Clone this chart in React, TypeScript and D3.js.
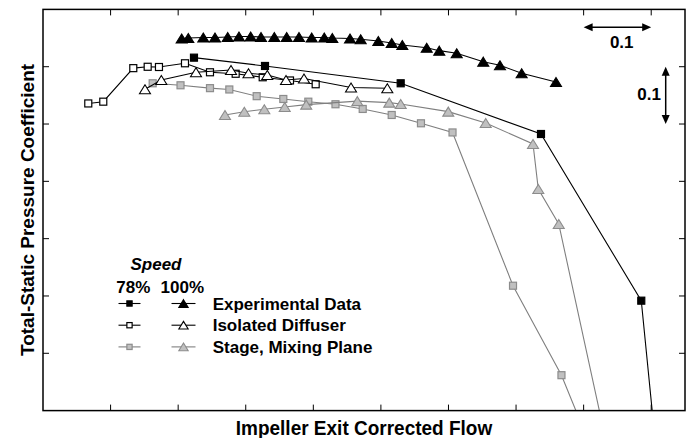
import React from "react";
import * as d3 from "d3";

// ---- data (arbitrary units; 1 tick = 0.1) ----
const exp78X = [0.2234, 0.3285, 0.5293, 0.7369, 0.8853, 0.9056];
const exp78Y = [0.6158, 0.6013, 0.5711, 0.4826, 0.1918, -0.0496];

const exp100X = [0.2052, 0.215, 0.2372, 0.2545, 0.2733, 0.29, 0.3073, 0.3226, 0.3423, 0.3606, 0.3788, 0.3976, 0.4162, 0.4281, 0.4543, 0.4701, 0.4962, 0.516, 0.5317, 0.5678, 0.5864, 0.6122, 0.6515, 0.6762, 0.7083, 0.7591];
const exp100Y = [0.6493, 0.6501, 0.651, 0.651, 0.6519, 0.6528, 0.6528, 0.6519, 0.6519, 0.6519, 0.6519, 0.651, 0.651, 0.6501, 0.6493, 0.6479, 0.6449, 0.6414, 0.6379, 0.6332, 0.628, 0.6234, 0.6088, 0.6025, 0.5886, 0.5734];

const iso78X = [0.067, 0.0892, 0.1336, 0.1549, 0.1716, 0.2101, 0.2471, 0.2851, 0.3251, 0.3655, 0.4035];
const iso78Y = [0.5359, 0.539, 0.5975, 0.5999, 0.5995, 0.606, 0.5903, 0.5877, 0.5816, 0.576, 0.5694];

const iso100X = [0.1509, 0.1751, 0.2264, 0.2782, 0.3041, 0.3319, 0.3596, 0.3862, 0.4558, 0.5095];
const iso100Y = [0.5606, 0.5769, 0.5903, 0.5943, 0.5886, 0.5856, 0.5769, 0.5795, 0.5638, 0.5624];

const stage78X = [0.1623, 0.2035, 0.2471, 0.2757, 0.3162, 0.3556, 0.3926, 0.4328, 0.4731, 0.516, 0.5593, 0.606, 0.6955, 0.7672, 0.8057];
const stage78Y = [0.5711, 0.5676, 0.5626, 0.5603, 0.5486, 0.5437, 0.539, 0.5345, 0.5263, 0.5158, 0.5013, 0.4853, 0.2179, 0.0618, -0.0496];

const stage100X = [0.2693, 0.2979, 0.3275, 0.3577, 0.3895, 0.4651, 0.5124, 0.5293, 0.5997, 0.6551, 0.7251, 0.7329, 0.7632, 0.8324];
const stage100Y = [0.5158, 0.5214, 0.5259, 0.5298, 0.5338, 0.5399, 0.5373, 0.535, 0.5216, 0.5018, 0.4652, 0.3867, 0.3256, -0.0496];

const xTicks = [0.1, 0.2, 0.3, 0.4, 0.5, 0.6, 0.7, 0.8, 0.9];
const yTicks = [0.1, 0.2, 0.3, 0.4, 0.5, 0.6];

const legendRows = ["Experimental Data", "Isolated Diffuser", "Stage, Mixing Plane"];
const speedLabels = ["78%", "100%"];

const W = 689, H = 438;
const L = 43, R = 685, T = 9.4, B = 410.6;
const FONT = "'Liberation Sans', Arial, Helvetica, sans-serif";
const GRAY_FILL = "#c0c0c0";
const GRAY_STROKE = "#8c8c8c";
const GRAY_LINE = "#7f7f7f";

type Style = { shape: "sq" | "tri"; fill: string; stroke: string; line: string };

const styles: Style[][] = [
  [
    { shape: "sq", fill: "#000", stroke: "#000", line: "#000" },
    { shape: "tri", fill: "#000", stroke: "#000", line: "#000" },
  ],
  [
    { shape: "sq", fill: "#fff", stroke: "#000", line: "#000" },
    { shape: "tri", fill: "#fff", stroke: "#000", line: "#000" },
  ],
  [
    { shape: "sq", fill: GRAY_FILL, stroke: GRAY_STROKE, line: GRAY_LINE },
    { shape: "tri", fill: GRAY_FILL, stroke: GRAY_STROKE, line: GRAY_LINE },
  ],
];

function Marker({ x, y, s, scale = 1 }: { x: number; y: number; s: Style; scale?: number }) {
  if (s.shape === "sq") {
    const a = 7 * scale;
    return <rect x={x - a / 2} y={y - a / 2} width={a} height={a} fill={s.fill} stroke={s.stroke} strokeWidth={1.2} />;
  }
  const w = 11 * scale, h = 9 * scale;
  return (
    <path
      d={`M${x},${y - h / 2}L${x + w / 2},${y + h / 2}L${x - w / 2},${y + h / 2}Z`}
      fill={s.fill}
      stroke={s.stroke}
      strokeWidth={1.1}
      strokeLinejoin="miter"
    />
  );
}

export default function App() {
  const x = d3.scaleLinear().domain([0, 0.95]).range([L, R]);
  const y = d3.scaleLinear().domain([0, 0.7]).range([B, T]);

  const series = [
    { xs: stage78X, ys: stage78Y, s: styles[2][0] },
    { xs: stage100X, ys: stage100Y, s: styles[2][1] },
    { xs: iso78X, ys: iso78Y, s: styles[1][0] },
    { xs: iso100X, ys: iso100Y, s: styles[1][1] },
    { xs: exp78X, ys: exp78Y, s: styles[0][0] },
    { xs: exp100X, ys: exp100Y, s: styles[0][1] },
  ];

  const line = d3
    .line<[number, number]>()
    .x((d) => x(d[0]))
    .y((d) => y(d[1]));

  const legX78 = 129.5, legX100 = 183.5, legY0 = 303.5, legDy = 21.7;

  return (
    <svg width={W} height={H} style={{ position: "absolute", left: 0, top: 0 }} fontFamily={FONT}>
      <rect width={W} height={H} fill="#fff" />
      <defs>
        <clipPath id="plot">
          <rect x={L} y={T} width={R - L} height={B - T} />
        </clipPath>
      </defs>

      {/* series */}
      <g clipPath="url(#plot)">
        {series.map((sr, i) => {
          const pts = sr.xs.map((v, j) => [v, sr.ys[j]] as [number, number]);
          return (
            <g key={i}>
              <path d={line(pts) || ""} fill="none" stroke={sr.s.line} strokeWidth={1.1} />
              {pts.map((p, j) =>
                p[1] >= 0 ? <Marker key={j} x={x(p[0])} y={y(p[1])} s={sr.s} /> : null
              )}
            </g>
          );
        })}
      </g>

      {/* frame and ticks */}
      <rect x={L} y={T} width={R - L} height={B - T} fill="none" stroke="#000" strokeWidth={1.5} />
      {xTicks.map((t) => (
        <g key={"x" + t} stroke="#000" strokeWidth={1}>
          <line x1={x(t)} x2={x(t)} y1={B} y2={B - 6} />
          <line x1={x(t)} x2={x(t)} y1={T} y2={T + 6} />
        </g>
      ))}
      {yTicks.map((t) => (
        <g key={"y" + t} stroke="#000" strokeWidth={1}>
          <line x1={L} x2={L + 6} y1={y(t)} y2={y(t)} />
          <line x1={R} x2={R - 6} y1={y(t)} y2={y(t)} />
        </g>
      ))}

      {/* axis titles */}
      <text
        transform={`translate(${(L + R) / 2},434.5) scale(1,1.1)`}
        textAnchor="middle"
        fontWeight="bold"
        fontSize={19}
      >
        Impeller Exit Corrected Flow
      </text>
      <text
        transform={`translate(34,${(T + B) / 2}) rotate(-90)`}
        textAnchor="middle"
        fontWeight="bold"
        fontSize={19}
      >
        Total-Static Pressure Coefficient
      </text>

      {/* scale annotations */}
      <g>
        <line x1={x(0.8) + 8} x2={x(0.9) - 8} y1={27.3} y2={27.3} stroke="#000" strokeWidth={1.5} />
        <path d={`M${x(0.8)},27.3l9,-4l0,8Z`} fill="#000" />
        <path d={`M${x(0.9)},27.3l-9,-4l0,8Z`} fill="#000" />
        <text x={621.7} y={47.5} textAnchor="middle" fontWeight="bold" fontSize={17}>0.1</text>
        <line x1={665.7} x2={665.7} y1={y(0.6) + 8} y2={y(0.5) - 8} stroke="#000" strokeWidth={1.5} />
        <path d={`M665.7,${y(0.6)}l-4,9l8,0Z`} fill="#000" />
        <path d={`M665.7,${y(0.5)}l-4,-9l8,0Z`} fill="#000" />
        <text x={661} y={99.5} textAnchor="end" fontWeight="bold" fontSize={17}>0.1</text>
      </g>

      {/* legend */}
      <g>
        <text x={156} y={269.5} textAnchor="middle" fontWeight="bold" fontStyle="italic" fontSize={17}>
          Speed
        </text>
        <text x={133.3} y={293} textAnchor="middle" fontWeight="bold" fontSize={17}>{speedLabels[0]}</text>
        <text x={182.3} y={293} textAnchor="middle" fontWeight="bold" fontSize={17}>{speedLabels[1]}</text>
        {legendRows.map((label, i) => {
          const yy = legY0 + i * legDy;
          return (
            <g key={label}>
              <line x1={legX78 - 11} x2={legX78 + 11} y1={yy} y2={yy} stroke={styles[i][0].line} strokeWidth={1.1} />
              <Marker x={legX78} y={yy} s={styles[i][0]} scale={0.75} />
              <line x1={legX100 - 12} x2={legX100 + 12} y1={yy} y2={yy} stroke={styles[i][1].line} strokeWidth={1.1} />
              <Marker x={legX100} y={yy} s={styles[i][1]} scale={0.85} />
              <text x={212.7} y={yy + 6} fontWeight="bold" fontSize={17}>{label}</text>
            </g>
          );
        })}
      </g>
    </svg>
  );
}
